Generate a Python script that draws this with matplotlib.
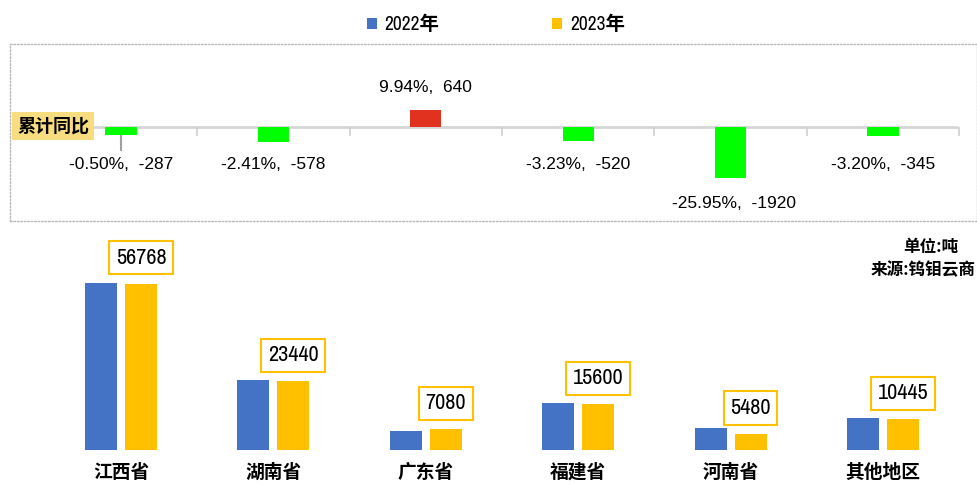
import matplotlib
matplotlib.use("Agg")
import matplotlib.pyplot as plt
from matplotlib import font_manager

# data
regions = ["江西省", "湖南省", "广东省", "福建省", "河南省", "其他地区"]
y2023 = [56768, 23440, 7080, 15600, 5480, 10445]
diff = [-287, -578, 640, -520, -1920, -345]
pct = ["-0.50%", "-2.41%", "9.94%", "-3.23%", "-25.95%", "-3.20%"]
y2022 = [a - d for a, d in zip(y2023, diff)]

cjk = "Noto Sans CJK SC"
# look for a narrow latin face, fall back to Liberation Sans
narrow = None
for f in font_manager.fontManager.ttflist:
    if "Narrow" in f.name or "Condensed" in f.name:
        narrow = f.name
        break
if narrow is None:
    narrow = "Liberation Sans"
plt.rcParams["font.family"] = ["Liberation Sans", cjk]

fig = plt.figure(figsize=(9.78, 5.03), dpi=100)
W, H = 978, 503
x = list(range(len(regions)))
xlim = ((10 - 121) / 152.4, (977 - 121) / 152.4)

# top panel: cumulative yoy change
ax1 = fig.add_axes([10 / W, 1 - 221 / H, 967 / W, 177 / H])
ax1.set_xlim(*xlim)
ax1.set_ylim(-3534, 3120)
for s in ax1.spines.values():
    s.set_linestyle((0, (1, 1.5)))
    s.set_color("#b8b8b8")
    s.set_linewidth(1)
ax1.set_xticks([])
ax1.set_yticks([])
ax1.hlines(0, -0.19, 5.49, color="#d6d6d6", lw=2, zorder=1)
ax1.vlines([i + 0.5 for i in x], -320, 0, color="#d0d0d0", lw=1.2, zorder=1)
cols = ["#e0321f" if d > 0 else "#00ff00" for d in diff]
ax1.bar(x, diff, width=0.205, color=cols, zorder=2)
ax1.vlines(0, -300, -900, color="#a0a0a0", lw=1.5, zorder=1)
for i, (p, d) in enumerate(zip(pct, diff)):
    txt = f"{p},  {d}"
    if d > 0:
        ax1.annotate(txt, (i, d), xytext=(0, 22), textcoords="offset pixels",
                     ha="center", va="center", fontsize=12.5)
    else:
        ax1.annotate(txt, (i + (0.02 if i == 4 else 0), min(d, -600)),
                     xytext=(0, -25 if d < -1000 else -22),
                     textcoords="offset pixels", ha="center", va="center", fontsize=12.5)
fig.text(53 / W, 1 - 126 / H, "累计同比", ha="center", va="center", fontsize=13,
         fontweight="bold", family=cjk,
         bbox=dict(boxstyle="square,pad=0.25", fc="#f8dc80", ec="none"))

# bottom panel: volumes
ax2 = fig.add_axes([10 / W, 1 - 450 / H, 967 / W, 215 / H])
ax2.set_xlim(*xlim)
ax2.set_ylim(0, 73450)
ax2.axis("off")
off = 0.131
b1 = ax2.bar([i - off for i in x], y2022, width=0.21, color="#4472c4", label="2022年")
b2 = ax2.bar([i + off for i in x], y2023, width=0.21, color="#ffc000", label="2023年")
for i, v in enumerate(y2023):
    ax2.annotate(str(v), (i + off, v), xytext=(0, 26), textcoords="offset pixels",
                 ha="center", va="center", fontsize=16, family=[narrow, cjk],
                 bbox=dict(boxstyle="square,pad=0.3", fc="white", ec="#ffc000", lw=1.5))
for i, r in enumerate(regions):
    ax2.annotate(r, (i, 0), xytext=(0, -22), textcoords="offset pixels",
                 ha="center", va="center", fontsize=13.5, fontweight="bold", family=cjk)

fig.text(931 / W, 1 - 247 / H, "单位:吨", ha="center", va="center", fontsize=12,
         fontweight="bold", family=cjk)
fig.text(976 / W, 1 - 270 / H, "来源:钨钼云商", ha="right", va="center", fontsize=12,
         fontweight="bold", family=cjk)

fig.legend(handles=[b1, b2], loc="center", bbox_to_anchor=(496 / W, 1 - 25 / H),
           ncol=2, frameon=False, handlelength=0.5, handleheight=0.5,
           handletextpad=0.4, columnspacing=5.8,
           prop={"family": [narrow, cjk], "size": 14, "weight": "bold"})

fig.savefig("out.png", dpi=100)
